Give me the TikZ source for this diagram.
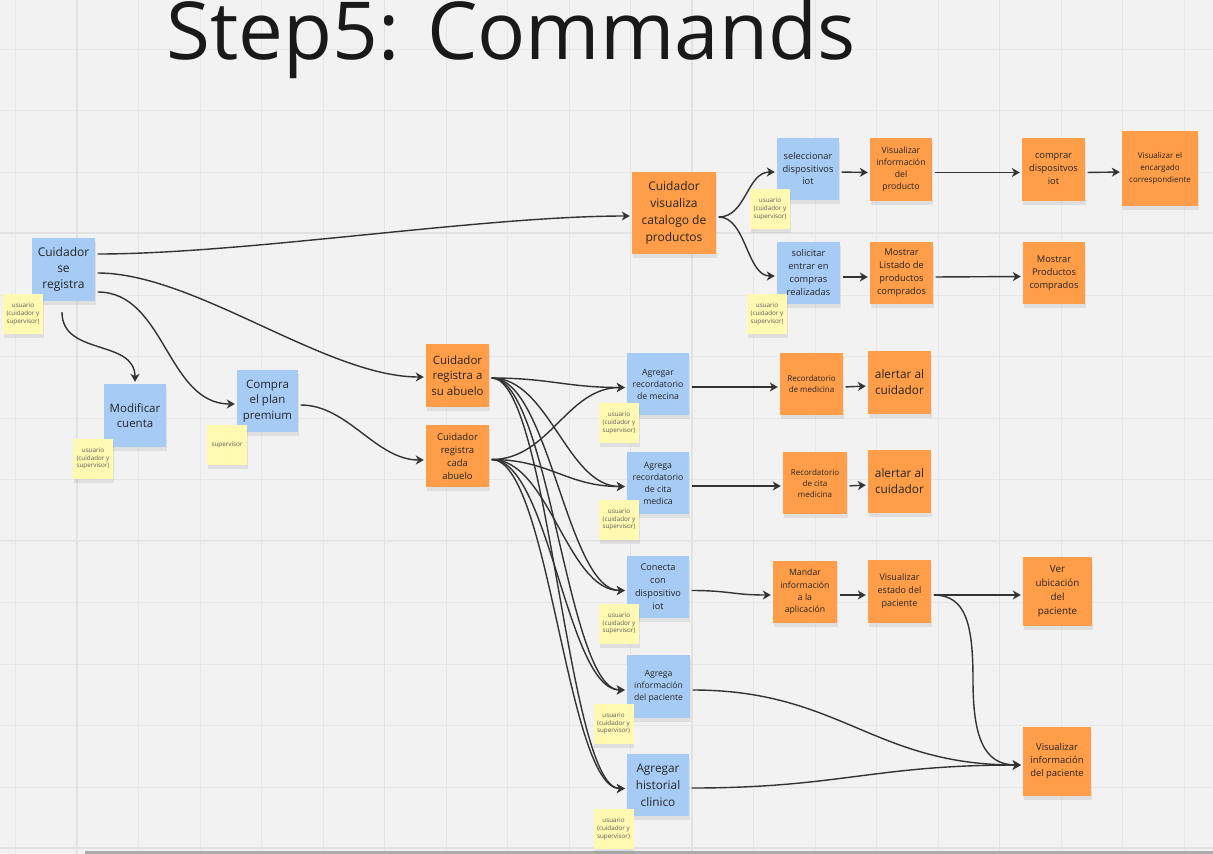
\documentclass[tikz,border=0pt]{standalone}
\usepackage{fontspec}
\setmainfont{Open Sans}
\usetikzlibrary{arrows.meta,shadows}
\definecolor{bg}{HTML}{F2F2F2}
\definecolor{gridc}{HTML}{E7E7E7}
\definecolor{gridm}{HTML}{E2E2E2}
\definecolor{bluen}{HTML}{A6CCF5}
\definecolor{orangen}{HTML}{FF9D48}
\definecolor{yellown}{HTML}{FFF9B1}
\definecolor{txt}{HTML}{262626}
\definecolor{ytxt}{HTML}{5C5C5C}
\definecolor{lc}{HTML}{333333}
\newcommand\fsz[2]{\fontsize{#1}{#2}\selectfont}
\tikzset{
 note/.style={inner sep=0pt, align=center, text=txt, minimum width=62pt, minimum height=62pt,
   drop shadow={shadow xshift=0.5pt,shadow yshift=-4pt,opacity=0.16}},
 bnote/.style={note, fill=bluen},
 onote/.style={note, fill=orangen},
 ynote/.style={note, fill=yellown, text=ytxt, minimum width=40pt, minimum height=40pt, font=\fsz{6.3}{7.7}},
 conn/.style={draw=lc, line width=1.4pt, -{Stealth[length=8pt,width=9pt,inset=2.4pt]}, shorten >=2pt, shorten <=2.5pt},
}
\begin{document}
\begin{tikzpicture}[x=1pt,y=-1pt]
\useasboundingbox (0,0) rectangle (1213,854);
\clip (0,0) rectangle (1213,854);
\fill[bg] (0,0) rectangle (1213,854);
\foreach \i in {0,...,19} \draw[gridc, line width=1pt] ({15.5+61.5*\i},0) -- ++(0,854);
\foreach \j in {0,...,14} \draw[gridc, line width=1pt] (0,{-12.5+61.5*\j}) -- ++(1213,0);
\foreach \xx in {77,384.5,692,999.5} \draw[gridm, line width=1.6pt] (\xx,0) -- ++(0,854);
\foreach \yy in {233,540.5,848} \draw[gridm, line width=1.6pt] (0,\yy) -- ++(1213,0);
\fill[black!33] (85,851) rectangle (1213,854);

% title
\node[anchor=base west, inner sep=0pt, text=black!90, font=\fsz{80}{80}] (title) at (166,59) {Step5: Commands};

% blue notes
\node[bnote, minimum width=63pt, minimum height=63pt, font=\fsz{12}{16}] (reg) at (63.5,269.5) {Cuidador\\se\\registra};
\node[bnote, minimum height=63pt, font=\fsz{11.5}{15.5}] (mod) at (135,415.5) {Modificar\\cuenta};
\node[bnote, minimum width=61pt, font=\fsz{11.5}{15.5}] (prem) at (267.5,401) {Compra\\el plan\\premium};
\node[bnote, font=\fsz{9.3}{12.5}] (sel) at (808,169) {seleccionar\\dispositivos\\iot};
\node[bnote, minimum width=63pt, font=\fsz{9.3}{13}] (sol) at (808.5,273) {solicitar\\entrar en\\compras\\realizadas};
\node[bnote, font=\fsz{8.7}{12}] (arm) at (658,384) {Agregar\\recordatorio\\de mecina};
\node[bnote, font=\fsz{8.7}{12}] (arc) at (658,483) {Agrega\\recordatorio\\de cita\\medica};
\node[bnote, font=\fsz{9.2}{13}] (con) at (658,587) {Conecta\\con\\dispositivo\\iot};
\node[bnote, minimum width=63pt, minimum height=63pt, font=\fsz{8.6}{11.7}] (aip) at (658.5,686.5) {Agrega\\información\\del paciente};
\node[bnote, font=\fsz{11.8}{17}] (ahc) at (658,785) {Agregar\\historial\\clinico};

% orange notes
\node[onote, minimum width=84pt, minimum height=82pt, font=\fsz{12}{17}] (cat) at (674,213) {Cuidador\\visualiza\\catalogo de\\productos};
\node[onote, minimum height=63pt, font=\fsz{8.7}{12}] (vip) at (901,169.5) {Visualizar\\información\\del\\producto};
\node[onote, minimum width=63pt, font=\fsz{9.3}{13}] (mlp) at (901.5,273) {Mostrar\\Listado de\\productos\\comprados};
\node[onote, minimum width=63pt, minimum height=63pt, font=\fsz{9.3}{13}] (cdi) at (1053.5,169.5) {comprar\\dispositvos\\iot};
\node[onote, minimum width=76pt, minimum height=75pt, font=\fsz{8}{12}] (vec) at (1160,168.5) {Visualizar el\\encargado\\correspondiente};
\node[onote, font=\fsz{9.3}{13}] (mpc) at (1054,273) {Mostrar\\Productos\\comprados};
\node[onote, minimum width=63pt, minimum height=63pt, font=\fsz{11.5}{15.5}] (rsa) at (457.5,375.5) {Cuidador\\registra a\\su abuelo};
\node[onote, minimum width=63pt, font=\fsz{9.5}{13}] (rca) at (457.5,456) {Cuidador\\registra\\cada\\abuelo};
\node[onote, minimum width=63pt, font=\fsz{8}{10.7}] (rdm) at (811.5,384) {Recordatorio\\de medicina};
\node[onote, minimum width=63pt, minimum height=63pt, font=\fsz{11.8}{16}] (al1) at (899.5,382.5) {alertar al\\cuidador};
\node[onote, minimum width=64pt, font=\fsz{8}{11}] (rdc) at (815,483) {Recordatorio\\de cita\\medicina};
\node[onote, minimum width=63pt, minimum height=63pt, font=\fsz{11.8}{16}] (al2) at (899.5,481.5) {alertar al\\cuidador};
\node[onote, minimum width=64pt, font=\fsz{8.7}{12.3}] (mia) at (805,592) {Mandar\\información\\a la\\aplicación};
\node[onote, minimum width=63pt, minimum height=63pt, font=\fsz{9}{13}] (ves) at (899.5,591.5) {Visualizar\\estado del\\paciente};
\node[onote, minimum width=69pt, minimum height=69pt, font=\fsz{9.8}{14}] (vub) at (1057.5,591.5) {Ver\\ubicación\\del\\paciente};
\node[onote, minimum width=68pt, minimum height=69pt, font=\fsz{9.4}{13}] (vinf) at (1057,761.5) {Visualizar\\información\\del paciente};

% yellow notes
\node[ynote] (y1) at (23,314) {usuario\\(cuidador y\\supervisor)};
\node[ynote] (y2) at (93,458.5) {usuario\\(cuidador y\\supervisor)};
\node[ynote] (y3) at (227,445) {supervisor};
\node[ynote] (y4) at (770,209) {usuario\\(cuidador y\\supervisor)};
\node[ynote] (y5) at (767,314) {usuario\\(cuidador y\\supervisor)};
\node[ynote] (y6) at (619,423) {usuario\\(cuidador y\\supervisor)};
\node[ynote] (y7) at (619,519.5) {usuario\\(cuidador y\\supervisor)};
\node[ynote] (y8) at (619,623.5) {usuario\\(cuidador y\\supervisor)};
\node[ynote] (y9) at (613.5,723.5) {usuario\\(cuidador y\\supervisor)};
\node[ynote] (y10) at (613.5,829) {usuario\\(cuidador y\\supervisor)};

% connectors
\draw[conn] ([yshift=15.5pt]reg.east) .. controls +(150,0) and +(-150,0) .. ([yshift=-3pt]cat.west);
\draw[conn] ([yshift=-3.5pt]reg.east) .. controls +(100,0) and +(-100,0) .. ([yshift=-1.5pt]rsa.west);
\draw[conn] ([yshift=-22.5pt]reg.east) .. controls +(70,0) and +(-70,0) .. ([yshift=-3pt]prem.west);
\draw[conn, shorten <=11pt] ([xshift=-1.5pt]reg.south) .. controls +(0,55) and +(0,-45) .. (mod.north);
\draw[conn] ([yshift=-4pt]prem.east) .. controls +(50,0) and +(-50,0) .. ([yshift=-4pt]rca.west);

\draw[conn] ([yshift=-4pt]cat.east) .. controls +(30,0) and +(-30,0) .. ([yshift=-3pt]sel.west);
\draw[conn] ([yshift=-4pt]cat.east) .. controls +(30,0) and +(-30,0) .. ([yshift=-3pt]sol.west);
\draw[conn] ([yshift=-3pt]sel.east) -- ([yshift=-3pt]vip.west);
\draw[conn] ([yshift=-3pt]vip.east) -- ([yshift=-3pt]cdi.west);
\draw[conn] ([yshift=-3pt]cdi.east) -- ([yshift=-3.5pt]vec.west);
\draw[conn] ([yshift=-4pt]sol.east) -- ([yshift=-4pt]mlp.west);
\draw[conn] ([yshift=-4pt]mlp.east) -- ([yshift=-3.5pt]mpc.west);

\foreach \t in {arm,arc,con,aip,ahc} {
  \draw[conn] ([yshift=-2.5pt]rsa.east) .. controls +(60,0) and +(-60,0) .. ([yshift=-3.5pt]\t.west);
  \draw[conn] ([yshift=-3.5pt]rca.east) .. controls +(60,0) and +(-60,0) .. ([yshift=-3.5pt]\t.west);
}

\draw[conn] ([yshift=-3pt]arm.east) -- ([yshift=-3pt]rdm.west);
\draw[conn] ([yshift=-3pt]rdm.east) -- ([yshift=-3.5pt]al1.west);
\draw[conn] ([yshift=-3pt]arc.east) -- ([yshift=-3pt]rdc.west);
\draw[conn] ([yshift=-3pt]rdc.east) -- ([yshift=-3.5pt]al2.west);
\draw[conn] ([yshift=-3.5pt]con.east) .. controls +(40,0) and +(-40,0) .. ([yshift=-3pt]mia.west);
\draw[conn] ([yshift=-3pt]mia.east) -- ([yshift=-3.5pt]ves.west);
\draw[conn] ([yshift=-3.5pt]ves.east) -- ([yshift=-3.5pt]vub.west);
\coordinate (bend) at (973,680);
\draw[conn] ([yshift=-3.5pt]ves.east) .. controls +(35,0) and +(0,-55) .. (bend) .. controls +(0,55) and +(-40,0) .. ([yshift=-3.5pt]vinf.west);
\draw[conn] ([yshift=-3.5pt]aip.east) .. controls +(150,0) and +(-150,0) .. ([yshift=-3.5pt]vinf.west);
\draw[conn] ([yshift=-3pt]ahc.east) .. controls +(150,0) and +(-150,0) .. ([yshift=-3.5pt]vinf.west);
\end{tikzpicture}
\end{document}
